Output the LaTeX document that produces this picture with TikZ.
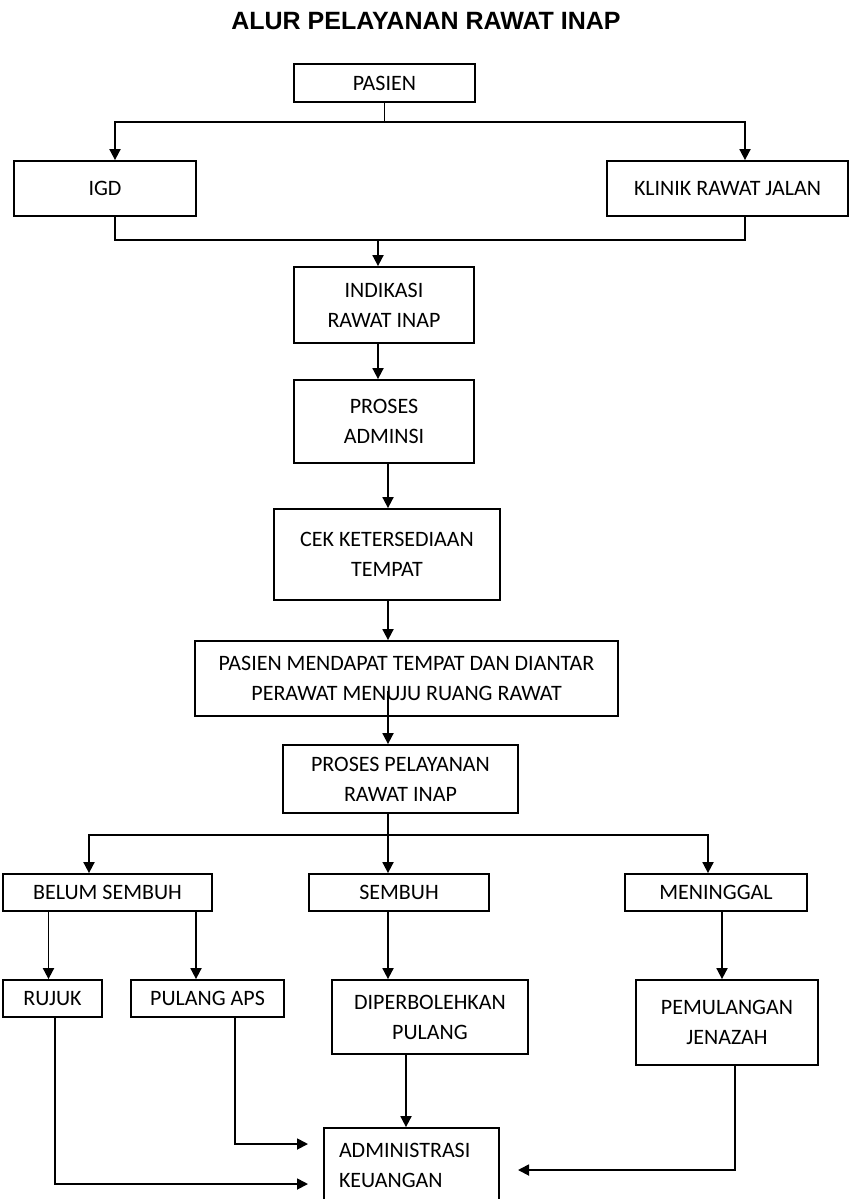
\documentclass[tikz,border=0pt]{standalone}
\usepackage{fontspec}
\setmainfont{Carlito}
\newfontfamily\titlefont{Liberation Sans}
\usetikzlibrary{arrows.meta}

\begin{document}
\begin{tikzpicture}[x=0.5pt,y=-0.5pt,
  box/.style={draw, line width=0.9pt, inner sep=0pt, align=center,
    font=\fontsize{11}{15}\selectfont},
  arr/.style={line width=0.9pt, -{Triangle[length=5.5pt,width=5.5pt]}},
  line/.style={line width=0.9pt}]
\clip (0,0) rectangle (851,1199);

% Title
\node[font=\titlefont\bfseries\fontsize{12.5}{14}\selectfont] (title) at (426,21) {ALUR PELAYANAN RAWAT INAP};

% Top
\node[box, minimum width=90.5pt, minimum height=19pt] (pasien) at (384.5,83) {PASIEN};
\node[box, minimum width=91pt, minimum height=27.5pt] (igd) at (105,188.5) {IGD};
\node[box, minimum width=120.5pt, minimum height=27.5pt] (klinik) at (727.5,188.5) {KLINIK RAWAT JALAN};

% Middle column
\node[box, minimum width=90pt, minimum height=38pt] (indikasi) at (384,305) {INDIKASI\\RAWAT INAP};
\node[box, minimum width=90pt, minimum height=41.5pt] (admisi) at (384,421.5) {PROSES\\ADMINSI};
\node[box, minimum width=113pt, minimum height=45.5pt] (cek) at (387,554.5) {CEK KETERSEDIAAN\\TEMPAT};
\node[box, minimum width=211.5pt, minimum height=37.5pt] (mendapat) at (406.5,678.5) {PASIEN MENDAPAT TEMPAT DAN DIANTAR\\PERAWAT MENUJU RUANG RAWAT};
\node[box, minimum width=117.5pt, minimum height=34pt] (pelayanan) at (400.5,779) {PROSES PELAYANAN\\RAWAT INAP};

% Outcomes
\node[box, minimum width=104.5pt, minimum height=18.5pt] (belum) at (107.5,892.5) {BELUM SEMBUH};
\node[box, minimum width=90pt, minimum height=18.5pt] (sembuh) at (399,892.5) {SEMBUH};
\node[box, minimum width=91pt, minimum height=18.5pt] (meninggal) at (716,892.5) {MENINGGAL};

\node[box, minimum width=49.5pt, minimum height=18.5pt] (rujuk) at (52.5,998.5) {RUJUK};
\node[box, minimum width=76.5pt, minimum height=18.5pt] (aps) at (207.5,998.5) {PULANG APS};
\node[box, minimum width=98pt, minimum height=37pt] (boleh) at (430,1017) {DIPERBOLEHKAN\\PULANG};
\node[box, minimum width=91pt, minimum height=42.5pt] (jenazah) at (727,1022.5) {PEMULANGAN\\JENAZAH};

% Finance
\node[box, align=left, text width=72.5pt, inner xsep=7.5pt, minimum height=37.5pt] (keuangan) at (411.5,1165.5) {ADMINISTRASI\\KEUANGAN};

% Split and join points
\coordinate (split) at (384.5,122);
\coordinate (join) at (378,240);
\coordinate (branch) at (388,835);
\coordinate (inAps) at (308,1144);
\coordinate (inRujuk) at (308,1184);
\coordinate (inJenazah) at (518,1170);

% Arrows
\draw[line] (pasien.south) -- (split);
\draw[arr] (split) -| ([xshift=5pt]igd.north);
\draw[arr] (split) -| ([xshift=8.75pt]klinik.north);
\draw[line] ([xshift=5pt]igd.south) |- (join) -| ([xshift=8.75pt]klinik.south);
\draw[arr] (join) -- (join |- indikasi.north);
\draw[arr] (join |- indikasi.south) -- (join |- admisi.north);
\draw[arr] (branch |- admisi.south) -- (branch |- cek.north);
\draw[arr] (branch |- cek.south) -- (branch |- mendapat.north);
\draw[arr] ([yshift=13pt]branch |- mendapat.south) -- (branch |- pelayanan.north);
\draw[line] (branch |- pelayanan.south) -- (branch);
\draw[arr] (branch) -| ([xshift=-9.25pt]belum.north);
\draw[arr] (branch) -- (branch |- sembuh.north);
\draw[arr] (branch) -| ([xshift=-4pt]meninggal.north);

\draw[arr] ([xshift=-2pt]rujuk.north |- belum.south) -- ([xshift=-2pt]rujuk.north);
\draw[arr] ([xshift=-5.75pt]aps.north |- belum.south) -- ([xshift=-5.75pt]aps.north);
\draw[arr] (branch |- sembuh.south) -- (branch |- boleh.north);
\draw[arr] ([xshift=3pt]meninggal.south) -- ([xshift=3pt]meninggal.south |- jenazah.north);

\draw[arr] ([xshift=-12pt]boleh.south) -- ([xshift=-12pt]boleh.south |- keuangan.north);
\draw[arr] ([xshift=13.75pt]aps.south) |- (inAps);
\draw[arr] ([xshift=1.25pt]rujuk.south) |- (inRujuk);
\draw[arr] ([xshift=4pt]jenazah.south) |- (inJenazah);
\end{tikzpicture}
\end{document}
